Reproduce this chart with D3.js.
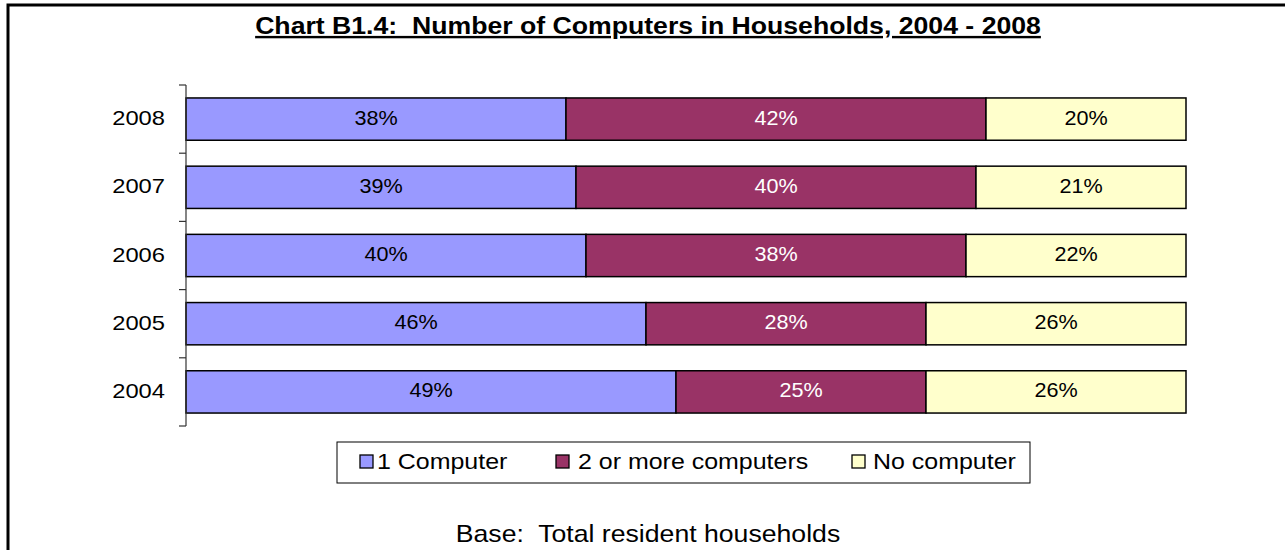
<!DOCTYPE html>
<html><head><meta charset="utf-8">
<script src="https://cdn.jsdelivr.net/npm/d3@7"></script>
<style>body{margin:0;background:#fff}svg{display:block;font-family:Arial,"Liberation Sans",sans-serif}text{white-space:pre}</style>
</head><body>
<svg id="c" width="1285" height="550"></svg>
<script>
const years = ["2008","2007","2006","2005","2004"];
const seriesNames = ["1 Computer","2 or more computers","No computer"];
const oneComputer = [38,39,40,46,49];
const twoOrMore = [42,40,38,28,25];
const noComputer = [20,21,22,26,26];
const colors = ["#9999FF","#993366","#FFFFCC"];
const titleText = "Chart B1.4:  Number of Computers in Households, 2004 - 2008";
const baseText = "Base:  Total resident households";

const svg = d3.select("#c");
function label(parent, x, y, str, size, anchor, sx, extra) {
  const g = parent.append("g").attr("transform", `translate(${x},${y}) scale(${sx},1)`);
  const t = g.append("text").attr("x",0).attr("y",0).attr("font-size",size)
    .attr("text-anchor",anchor||"start").text(str);
  if (extra) extra(t);
  return t;
}

// outer frame
svg.append("path").attr("d","M8,550 L8,5 L1285,5").attr("fill","none").attr("stroke","#000").attr("stroke-width",3);

label(svg, 648, 34, titleText, 24, "middle", 1.11, t=>t.attr("font-weight","bold").attr("text-decoration","underline"));

const x = d3.scaleLinear().domain([0,100]).range([186,1186]);
const y = d3.scaleBand().domain(years).range([85,426]).paddingInner(0.38).paddingOuter(0.19);

const rows = years.map((yr,i)=>({year:yr, vals:[oneComputer[i],twoOrMore[i],noComputer[i]]}));
const stacked = [];
rows.forEach(r=>{let acc=0; r.vals.forEach((v,k)=>{stacked.push({year:r.year,k,v,x0:acc,x1:acc+v}); acc+=v;});});

svg.append("g").selectAll("rect").data(stacked).join("rect")
  .attr("x",d=>x(d.x0)).attr("y",d=>y(d.year))
  .attr("width",d=>x(d.x1)-x(d.x0)).attr("height",y.bandwidth())
  .attr("fill",d=>colors[d.k]).attr("stroke","#000").attr("stroke-width",1.5);

const lblG = svg.append("g");
stacked.forEach(d=>{
  label(lblG, (x(d.x0)+x(d.x1))/2, y(d.year)+y.bandwidth()/2+5.5, d.v+"%", 20, "middle", 1.08,
    t=>t.attr("fill", d.k===1?"#fff":"#000"));
});

// axis
const yAxisG = svg.append("g").attr("transform","translate(186,0)");
yAxisG.append("line").attr("x1",0).attr("x2",0).attr("y1",85).attr("y2",426).attr("stroke","#333").attr("stroke-width",1.2);
const edges = years.map(yr=>y(yr)-y.step()*y.paddingInner()/2);
edges[0]=85; edges.push(426);
yAxisG.selectAll("line.t").data(edges).join("line").attr("class","t")
  .attr("x1",-7).attr("x2",0).attr("y1",d=>d).attr("y2",d=>d).attr("stroke","#333").attr("stroke-width",1.2);
const yl = svg.append("g");
years.forEach(yr=> label(yl, 165, y(yr)+y.bandwidth()/2+6, yr, 21, "end", 1.13));

// legend
const lg = svg.append("g");
lg.append("rect").attr("x",337).attr("y",442).attr("width",693).attr("height",41).attr("fill","#fff").attr("stroke","#000").attr("stroke-width",1);
const lx = [360,556,852];
const tx = [377,578,873];
seriesNames.forEach((n,i)=>{
  lg.append("rect").attr("x",lx[i]).attr("y",455).attr("width",13).attr("height",13).attr("fill",colors[i]).attr("stroke","#000").attr("stroke-width",1.3);
  label(lg, tx[i], 469, n, 22, "start", 1.135);
});

label(svg, 648, 542, baseText, 24, "middle", 1.11);
</script>
</body></html>
